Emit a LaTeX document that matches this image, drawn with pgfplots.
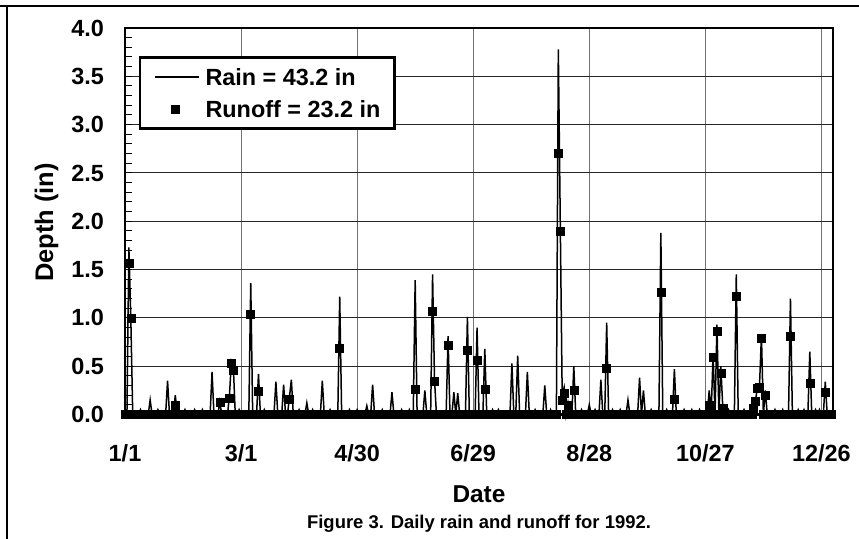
\documentclass[border=0pt]{standalone}
\usepackage{fontspec}
\setmainfont{Liberation Sans}
\usepackage{pgfplots}
\usepackage{pgfplotstable}
\pgfplotsset{compat=1.18}

% daily rain and runoff (in), day 0 = 1/1/1992
\pgfplotstableread[row sep=\\]{
d rain runoff\\
0 0 0\\1 0 0\\2 1.73 1.57\\3 1.00 1.00\\4 0 0\\5 0 0\\6 0 0\\7 0 0\\8 0.05 0\\9 0 0\\
10 0 0\\11 0 0\\12 0 0\\13 0.15 0\\14 0 0\\15 0 0\\16 0 0\\17 0.05 0\\18 0 0\\19 0 0\\
20 0 0\\21 0 0\\22 0.35 0\\23 0 0\\24 0 0\\25 0 0\\26 0.20 0.10\\27 0 0\\28 0 0\\29 0 0\\
30 0 0\\31 0.05 0\\32 0 0\\33 0 0\\34 0 0\\35 0 0\\36 0.05 0\\37 0 0\\38 0 0\\39 0 0\\
40 0.05 0\\41 0 0\\42 0 0\\43 0 0\\44 0 0\\45 0.44 0\\46 0 0\\47 0 0\\48 0 0\\49 0.13 0.13\\
50 0 0\\51 0 0\\52 0 0\\53 0 0\\54 0.20 0.17\\55 0.55 0.53\\56 0.50 0.46\\57 0 0\\58 0 0\\59 0.05 0\\
60 0 0\\61 0 0\\62 0 0\\63 0 0\\64 0 0\\65 1.36 1.04\\66 0 0\\67 0 0\\68 0 0\\69 0.42 0.24\\
70 0 0\\71 0 0\\72 0.05 0\\73 0 0\\74 0 0\\75 0 0\\76 0 0\\77 0 0\\78 0.34 0\\79 0 0\\
80 0 0\\81 0 0\\82 0.31 0\\83 0 0\\84 0 0\\85 0.18 0.16\\86 0.36 0\\87 0 0\\88 0 0\\89 0 0\\
90 0.05 0\\91 0 0\\92 0 0\\93 0 0\\94 0.12 0\\95 0 0\\96 0 0\\97 0.05 0\\98 0 0\\99 0 0\\
100 0 0\\101 0 0\\102 0.35 0\\103 0 0\\104 0 0\\105 0 0\\106 0.05 0\\107 0 0\\108 0 0\\109 0 0\\
110 0 0\\111 1.22 0.69\\112 0 0\\113 0 0\\114 0 0\\115 0 0\\116 0.05 0\\117 0 0\\118 0 0\\119 0 0\\
120 0.05 0\\121 0 0\\122 0 0\\123 0 0\\124 0 0\\125 0.09 0\\126 0 0\\127 0 0\\128 0.31 0\\129 0 0\\
130 0 0\\131 0 0\\132 0 0\\133 0.05 0\\134 0 0\\135 0 0\\136 0 0\\137 0 0\\138 0.23 0\\139 0 0\\
140 0 0\\141 0 0\\142 0 0\\143 0.05 0\\144 0 0\\145 0 0\\146 0 0\\147 0.05 0\\148 0 0\\149 0 0\\
150 1.39 0.26\\151 0 0\\152 0 0\\153 0 0\\154 0 0\\155 0.25 0\\156 0 0\\157 0 0\\158 0 0\\159 1.45 1.07\\
160 0.36 0.34\\161 0 0\\162 0 0\\163 0 0\\164 0 0\\165 0 0\\166 0 0\\167 0.81 0.72\\168 0 0\\169 0 0\\
170 0.23 0\\171 0 0\\172 0.22 0\\173 0 0\\174 0 0\\175 0 0\\176 0 0\\177 1.01 0.66\\178 0 0\\179 0 0\\
180 0 0\\181 0 0\\182 0.90 0.56\\183 0 0\\184 0 0\\185 0 0\\186 0.68 0.26\\187 0 0\\188 0 0\\189 0 0\\
190 0.05 0\\191 0 0\\192 0 0\\193 0.05 0\\194 0 0\\195 0 0\\196 0 0\\197 0 0\\198 0 0\\199 0 0\\
200 0.53 0\\201 0 0\\202 0 0\\203 0.61 0\\204 0 0\\205 0 0\\206 0 0\\207 0 0\\208 0.44 0\\209 0 0\\
210 0 0\\211 0 0\\212 0.05 0\\213 0 0\\214 0 0\\215 0 0\\216 0 0\\217 0.30 0\\218 0 0\\219 0 0\\
220 0.05 0\\221 0 0\\222 0 0\\223 0 0\\224 3.78 2.70\\225 2.00 1.90\\226 0.20 0.15\\227 0.28 0.22\\228 0 0\\229 0.12 0.10\\
230 0 0\\231 0 0\\232 0.50 0.25\\233 0 0\\234 0 0\\235 0 0\\236 0.05 0\\237 0 0\\238 0 0\\239 0 0\\
240 0.10 0\\241 0 0\\242 0 0\\243 0.05 0\\244 0 0\\245 0 0\\246 0.36 0\\247 0 0\\248 0 0\\249 0.95 0.48\\
250 0 0\\251 0 0\\252 0.05 0\\253 0 0\\254 0 0\\255 0 0\\256 0.05 0\\257 0 0\\258 0 0\\259 0 0\\
260 0.15 0\\261 0 0\\262 0 0\\263 0 0\\264 0 0\\265 0 0\\266 0.38 0\\267 0 0\\268 0.25 0\\269 0 0\\
270 0 0\\271 0 0\\272 0.05 0\\273 0 0\\274 0 0\\275 0 0\\276 0 0\\277 1.88 1.27\\278 0 0\\279 0 0\\
280 0.05 0\\281 0 0\\282 0 0\\283 0 0\\284 0.47 0.16\\285 0 0\\286 0 0\\287 0 0\\288 0 0\\289 0.05 0\\
290 0 0\\291 0 0\\292 0 0\\293 0.05 0\\294 0 0\\295 0 0\\296 0 0\\297 0.05 0\\298 0 0\\299 0 0\\
300 0 0\\301 0 0\\302 0.25 0.10\\303 0 0\\304 0.63 0.59\\305 0 0\\306 0.93 0.86\\307 0 0\\308 0.50 0.43\\309 0.08 0.06\\
310 0 0\\311 0 0\\312 0.05 0\\313 0 0\\314 0 0\\315 0 0\\316 1.45 1.22\\317 0 0\\318 0 0\\319 0 0\\
320 0.05 0\\321 0 0\\322 0 0\\323 0 0\\324 0 0\\325 0.08 0.06\\326 0.15 0.14\\327 0.30 0.27\\328 0.30 0.28\\329 0.82 0.79\\
330 0 0\\331 0.25 0.20\\332 0 0\\333 0 0\\334 0 0\\335 0 0\\336 0.05 0\\337 0 0\\338 0 0\\339 0 0\\
340 0.05 0\\341 0 0\\342 0 0\\343 0 0\\344 1.20 0.81\\345 0 0\\346 0 0\\347 0 0\\348 0.05 0\\349 0 0\\
350 0 0\\351 0.05 0\\352 0 0\\353 0 0\\354 0.65 0.32\\355 0 0\\356 0 0\\357 0.05 0\\358 0 0\\359 0.05 0\\
360 0 0\\361 0 0\\362 0.34 0.23\\363 0 0\\364 0 0\\365 0 0\\
}\data

\newcommand{\labfont}{\fontsize{23.5}{28}\selectfont\bfseries}
\newcommand{\tickfont}{\fontsize{23.5}{28}\selectfont\bfseries}

\pgfplotsset{
  rainleg/.style={legend image code/.code={\draw[##1] (0bp,0bp) -- (44bp,0bp);}},
  runleg/.style={legend image code/.code={\path (0bp,0bp) (44bp,0bp);
    \draw[##1] plot coordinates {(20bp,0bp)};}},
}

\begin{document}
\begin{tikzpicture}[x=1bp,y=-1bp]
\path[use as bounding box] (0,0) rectangle (859,539);
\draw[line width=1.3bp] (0,6) -- (859,6);
\draw[line width=1.3bp] (7,6) -- (7,539);

\begin{axis}[
  at={(125bp,-414.5bp)}, anchor=south west,
  scale only axis, width=708bp, height=386.5bp,
  xmin=0, xmax=366, ymin=0, ymax=4,
  xtick={0,60,...,360},
  xticklabels={1/1,3/1,4/30,6/29,8/28,10/27,12/26},
  ytick={0,0.5,...,4},
  minor y tick num=4,
  /pgf/number format/assume math mode=true,
  yticklabel={\pgfmathprintnumber[fixed,fixed zerofill,precision=1]{\tick}},
  tick align=inside, ytick pos=left,
  major tick length=6.7bp, minor tick length=6.7bp,
  xtick style={draw=none},
  ytick style={line width=1bp, black},
  minor y tick style={line width=1bp, black},
  xmajorgrids, ymajorgrids,
  x grid style={line width=1.1bp, black!55},
  y grid style={line width=1.1bp, black!85},
  axis line style={line width=2.7bp},
  ticklabel style={font=\tickfont},
  xticklabel style={inner sep=0pt, anchor=base, yshift=-46.5bp},
  yticklabel style={inner sep=0pt, anchor=east, xshift=-21bp},
  clip=false,
  legend style={at={(0.0193,0.9267)}, anchor=north west, draw=black,
    line width=2.7bp, font=\labfont, inner xsep=14bp, inner ysep=3.3bp,
    cells={anchor=west}, row sep=0bp,
    nodes={inner sep=0pt, text height=17bp, text depth=0bp, minimum height=32bp},
    /tikz/every odd column/.append style={column sep=6bp}},
  legend cell align=left,
]
\addplot[black, line width=1.5bp, mark=none, rainleg]
  table[x=d, y=rain] {\data};
\addlegendentry{Rain = 43.2 in}
\addplot[black, only marks, mark=square*, mark size=4bp, line width=0.5bp, runleg]
  table[x=d, y=runoff] {\data};
\addlegendentry{Runoff = 23.2 in}
\end{axis}

\node[font=\fontsize{25.5}{30}\selectfont\bfseries, rotate=90] at (46.5,222.5) {Depth (in)};
\node[font=\fontsize{24.5}{29}\selectfont\bfseries] at (479,494) {Date};
\node[font=\fontsize{18.5}{22}\selectfont\bfseries] at (479,524)
  {Figure 3. Daily rain and runoff for 1992.};
\end{tikzpicture}
\end{document}
